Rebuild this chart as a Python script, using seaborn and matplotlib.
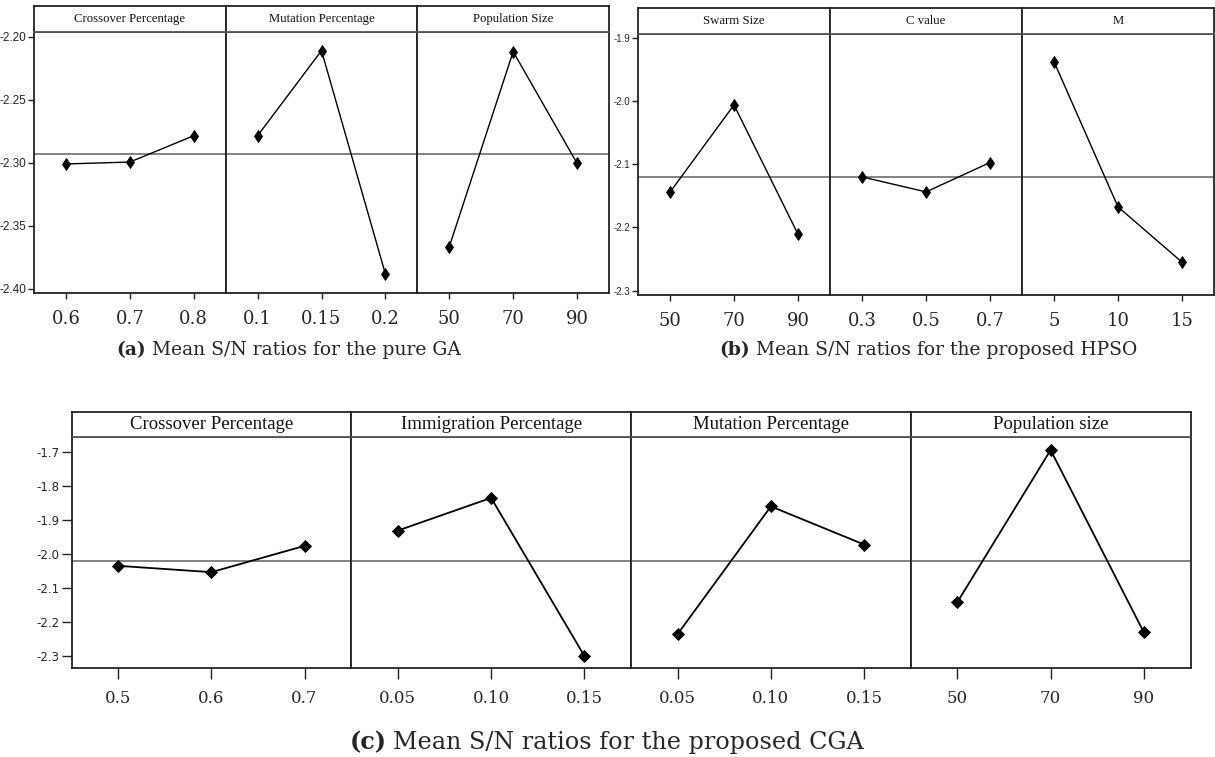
import matplotlib
matplotlib.use('Agg')
import matplotlib.pyplot as plt
import seaborn as sns
import pandas as pd

# (a) pure GA
ga_factors = ['Crossover Percentage', 'Mutation Percentage', 'Population Size']
ga_levels = [['0.6', '0.7', '0.8'], ['0.1', '0.15', '0.2'], ['50', '70', '90']]
ga_sn = [[-2.3010, -2.2995, -2.2786],
         [-2.2786, -2.2111, -2.3883],
         [-2.3667, -2.2119, -2.3005]]
ga_yticks = [-2.40, -2.35, -2.30, -2.25, -2.20]

# (b) proposed HPSO
pso_factors = ['Swarm Size', 'C value', 'M']
pso_levels = [['50', '70', '90'], ['0.3', '0.5', '0.7'], ['5', '10', '15']]
pso_sn = [[-2.1443, -2.0063, -2.2107],
          [-2.1201, -2.1438, -2.0974],
          [-1.9379, -2.1675, -2.2549]]
pso_yticks = [-2.3, -2.2, -2.1, -2.0, -1.9]

# (c) proposed CGA
cga_factors = ['Crossover Percentage', 'Immigration Percentage', 'Mutation Percentage', 'Population size']
cga_levels = [['0.5', '0.6', '0.7'], ['0.05', '0.10', '0.15'], ['0.05', '0.10', '0.15'], ['50', '70', '90']]
cga_sn = [[-2.0352, -2.0538, -1.9765],
          [-1.9316, -1.8356, -2.3000],
          [-2.2358, -1.8606, -1.9727],
          [-2.1418, -1.6950, -2.2308]]
cga_yticks = [-2.3, -2.2, -2.1, -2.0, -1.9, -1.8, -1.7]

titles = [('(a)', 'Mean S/N ratios for the pure GA'),
          ('(b)', 'Mean S/N ratios for the proposed HPSO'),
          ('(c)', 'Mean S/N ratios for the proposed CGA')]

sns.set_theme(style='ticks')
plt.rcParams['font.family'] = ['DejaVu Serif']

W, H = 1215, 757
fig = plt.figure(figsize=(W / 100, H / 100), dpi=100)


def main_effects(factors, levels, values, box, ylim, yticks, yfmt, opt):
    left, right, top, strip_bot, bottom = box
    w = (right - left) / len(factors)
    allv = [v for vals in values for v in vals]
    grand = sum(allv) / len(allv)
    for i, (fac, lv, vals) in enumerate(zip(factors, levels, values)):
        x0 = left + i * w
        ax = fig.add_axes([x0 / W, 1 - bottom / H, w / W, (bottom - strip_bot) / H])
        df = pd.DataFrame({'level': lv, 'sn': vals})
        ax.axhline(grand, color='#606060', lw=1.1, zorder=1)
        sns.pointplot(data=df, x='level', y='sn', ax=ax, color='black',
                      markers=opt['marker'], linestyles='-', errorbar=None,
                      linewidth=opt['lw'], markersize=opt['ms'], markeredgewidth=0.6)
        ax.set_xlim(-0.5, 2.5)
        ax.set_ylim(*ylim)
        ax.set_xlabel('')
        ax.set_ylabel('')
        for s in ax.spines.values():
            s.set_visible(True)
            s.set_color('#222222')
            s.set_linewidth(1.3)
        ax.tick_params(axis='x', length=opt['xtick'], width=1, color='#222222',
                       labelsize=opt['xfs'], pad=opt['xpad'])
        if i == 0:
            ax.set_yticks(yticks)
            ax.set_yticklabels([yfmt % t for t in yticks], family=[opt['yfont']],
                               fontsize=opt['yfs'])
            ax.tick_params(axis='y', length=opt['ytick'], width=1, color='#222222', pad=1.5)
        else:
            ax.tick_params(axis='y', left=False, labelleft=False)

        sx = fig.add_axes([x0 / W, 1 - strip_bot / H, w / W, (strip_bot - top) / H])
        sx.set_xticks([])
        sx.set_yticks([])
        for s in sx.spines.values():
            s.set_visible(True)
            s.set_color('#222222')
            s.set_linewidth(1.3)
        sx.spines['bottom'].set_color('#555555')
        sx.text(0.5, 0.5, fac, ha='center', va='center', transform=sx.transAxes,
                family=[opt['sfont']], fontsize=opt['sfs'], color='#111111')


ga_opt = dict(marker='d', lw=1.0, ms=6.5, xtick=4.5, ytick=4, xfs=13, xpad=8,
              yfont='Liberation Sans', yfs=8.5, sfont='Liberation Serif', sfs=9.2)
pso_opt = dict(ga_opt, yfs=7)
cga_opt = dict(marker='D', lw=1.3, ms=6.0, xtick=8, ytick=7, xfs=12, xpad=8,
               yfont='DejaVu Sans', yfs=8.5, sfont='Liberation Serif', sfs=13.5)

main_effects(ga_factors, ga_levels, ga_sn, (34, 609, 6, 32, 293),
             (-2.4034, -2.1963), ga_yticks, '%.2f', ga_opt)
main_effects(pso_factors, pso_levels, pso_sn, (638, 1214, 8, 34, 294.7),
             (-2.3063, -1.8942), pso_yticks, '%.1f', pso_opt)
main_effects(cga_factors, cga_levels, cga_sn, (71.5, 1190.5, 412, 437.3, 667.7),
             (-2.3344, -1.6577), cga_yticks, '%.1f', cga_opt)

# panel captions: bold label + normal text
caption_pos = [(146, 350, 13.5), (750, 350, 13.5), (387, 742, 17.2)]
for (lab, txt), (xs, ys, fs) in zip(titles, caption_pos):
    fig.text(xs / W, 1 - ys / H, lab, ha='right', va='center', fontsize=fs,
             fontweight='bold')
    fig.text((xs + 6) / W, 1 - ys / H, txt, ha='left', va='center', fontsize=fs)

fig.savefig('out.png', dpi=100)
